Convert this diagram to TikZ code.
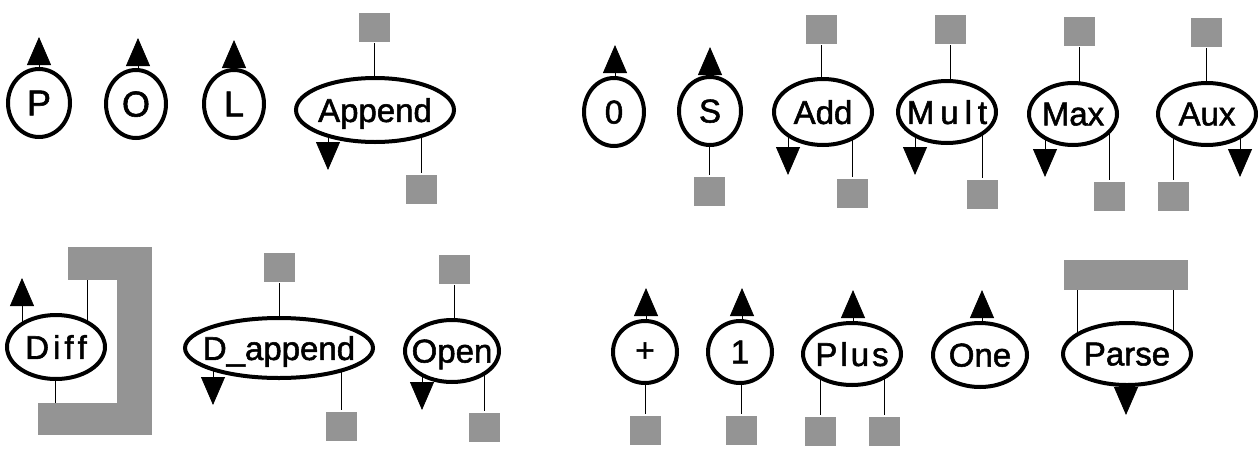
\documentclass[tikz,border=0pt]{standalone}
\usepackage{fontspec}
\setmainfont{Liberation Sans}
\newfontfamily\fnfont[FakeBold=1.6]{Liberation Sans}
\usetikzlibrary{arrows.meta,shapes.geometric,backgrounds}
\newcommand{\fnl}[1]{\makebox[0pt]{\raisebox{-.5\height}[0pt][0pt]{#1}}}

\begin{document}
\begin{tikzpicture}[x=0.5pt,y=-0.5pt,line width=1.6pt,
  fn/.style 2 args={ellipse,draw,fill=white,line width=2pt,inner sep=0pt,
    minimum width=#1pt,minimum height=#2pt,font=\fnfont\fontsize{16.5}{20}\selectfont},
  port/.style={fill=black!42,inner sep=0pt,minimum width=15.5pt,minimum height=14.5pt},
  outarr/.style={-{Triangle[width=12pt,length=14pt]}}]
\useasboundingbox (0,0) rectangle (1258,450);
% first row
\node[fn={31}{34}] (P) at (39,103) {\fnl{\fontsize{18}{20}\selectfont P}};
\node[fn={30}{34}] (O) at (136,104) {\fnl{\fontsize{18}{20}\selectfont O}};
\node[fn={30}{34}] (L) at (234,104) {\fnl{\fontsize{18}{20}\selectfont L}};
\node[fn={79}{32}] (Append) at (375,110) {\fnl{Append}};
\node[port] (appI) at (374,27) {};
\node[port] (appO) at (421,189) {};
\node[fn={30}{34}] (Zero) at (614,112) {\fnl{0}};
\node[fn={31}{34}] (S) at (710,111) {\fnl{S}};
\node[port] (sO) at (709,191) {};
\node[fn={49}{33}] (Add) at (823,112) {\fnl{Add}};
\node[port] (addI) at (821,29) {};
\node[port] (addO) at (852,193) {};
\node[fn={49}{31}] (Mult) at (947,112) {\fnl{M\kern3pt u\kern3pt l\kern3pt t}};
\node[port] (multI) at (950,29) {};
\node[port] (multO) at (982,194) {};
\node[fn={44}{31}] (Max) at (1073,114) {\fnl{Max}};
\node[port] (maxI) at (1079,31) {};
\node[port] (maxO) at (1109,196) {};
\node[fn={49}{31}] (Aux) at (1207,114) {\fnl{Aux}};
\node[port] (auxI) at (1206,32) {};
\node[port] (auxO) at (1173,196) {};
% second row
\node[fn={49}{32}] (Diff) at (56,347) {\fnl{D\kern2pt i\kern2pt f\kern2pt f}};
\node[port,minimum width=42pt,minimum height=16.5pt] (diffT) at (110,263.5) {};
\node[port,minimum width=17.5pt,minimum height=94pt] (diffR) at (134.5,341) {};
\node[port,minimum width=57pt,minimum height=16pt] (diffB) at (95,419) {};
\node[fn={94}{30}] (Dapp) at (279,348) {\fnl{D\_append}};
\node[port] (dappI) at (279,267) {};
\node[port] (dappO) at (341,426) {};
\node[fn={47}{31}] (Open) at (452,351) {\fnl{Open}};
\node[port] (openI) at (454,269) {};
\node[port] (openO) at (484,427) {};
\node[fn={32}{31}] (Pl) at (645,352) {\fnl{+}};
\node[port] (plI) at (645,430) {};
\node[fn={32}{31}] (One1) at (740,352) {\fnl{1}};
\node[port] (oneI) at (741,430) {};
\node[fn={49}{31}] (Plus) at (852,354) {\fnl{P\kern1.5pt l\kern1.5pt u\kern1.5pt s}};
\node[port] (plusL) at (820,431) {};
\node[port] (plusR) at (884,431) {};
\node[fn={47}{32}] (One) at (980,355) {\fnl{One}};
\node[fn={64}{31}] (Parse) at (1127,354) {\fnl{Parse}};
\node[port,minimum width=62pt,minimum height=15pt] (parseI) at (1126,275) {};
% free ends
\coordinate (pT) at (39,37);
\coordinate (oT) at (138,38);
\coordinate (lT) at (234,40);
\coordinate (appT) at (328,170);
\coordinate (zT) at (615,45);
\coordinate (sT) at (710,47);
\coordinate (addT) at (788,175);
\coordinate (multT) at (915,175);
\coordinate (maxT) at (1045,177);
\coordinate (auxT) at (1240,177);
\coordinate (diffU) at (22,278);
\coordinate (diffTw) at (87,280);
\coordinate (diffBw) at (55,403);
\coordinate (dappT) at (213,405);
\coordinate (openT) at (422,410);
\coordinate (plT) at (646,288);
\coordinate (oneT) at (742,288);
\coordinate (plusT) at (853,290);
\coordinate (OneT) at (982,290);
\coordinate (parseL) at (1077,290);
\coordinate (parseR) at (1173,290);
\coordinate (parseT) at (1126,415);
\begin{scope}[on background layer]
\draw[outarr] (pT |- P) -- (pT);
\draw[outarr] (oT |- O) -- (oT);
\draw[outarr] (lT |- L) -- (lT);
\draw (appI) -- (appI |- Append);
\draw[outarr] (appT |- Append) -- (appT);
\draw (appO) -- (appO |- Append);
\draw[outarr] (zT |- Zero) -- (zT);
\draw[outarr] (sT |- S) -- (sT);
\draw (sO) -- (sO |- S);
\draw (addI) -- (addI |- Add);
\draw[outarr] (addT |- Add) -- (addT);
\draw (addO) -- (addO |- Add);
\draw (multI) -- (multI |- Mult);
\draw[outarr] (multT |- Mult) -- (multT);
\draw (multO) -- (multO |- Mult);
\draw (maxI) -- (maxI |- Max);
\draw[outarr] (maxT |- Max) -- (maxT);
\draw (maxO) -- (maxO |- Max);
\draw (auxI) -- (auxI |- Aux);
\draw (auxO) -- (auxO |- Aux);
\draw[outarr] (auxT |- Aux) -- (auxT);
\draw[outarr] (diffU |- Diff) -- (diffU);
\draw (diffTw) -- (diffTw |- Diff);
\draw (diffBw) -- (diffBw |- Diff);
\draw (dappI) -- (dappI |- Dapp);
\draw[outarr] (dappT |- Dapp) -- (dappT);
\draw (dappO) -- (dappO |- Dapp);
\draw (openI) -- (openI |- Open);
\draw[outarr] (openT |- Open) -- (openT);
\draw (openO) -- (openO |- Open);
\draw[outarr] (plT |- Pl) -- (plT);
\draw (plI) -- (plI |- Pl);
\draw[outarr] (oneT |- One1) -- (oneT);
\draw (oneI) -- (oneI |- One1);
\draw[outarr] (plusT |- Plus) -- (plusT);
\draw (plusL) -- (plusL |- Plus);
\draw (plusR) -- (plusR |- Plus);
\draw[outarr] (OneT |- One) -- (OneT);
\draw (parseL) -- (parseL |- Parse);
\draw (parseR) -- (parseR |- Parse);
\draw[outarr] (parseT |- Parse) -- (parseT);
\end{scope}
\end{tikzpicture}
\end{document}
